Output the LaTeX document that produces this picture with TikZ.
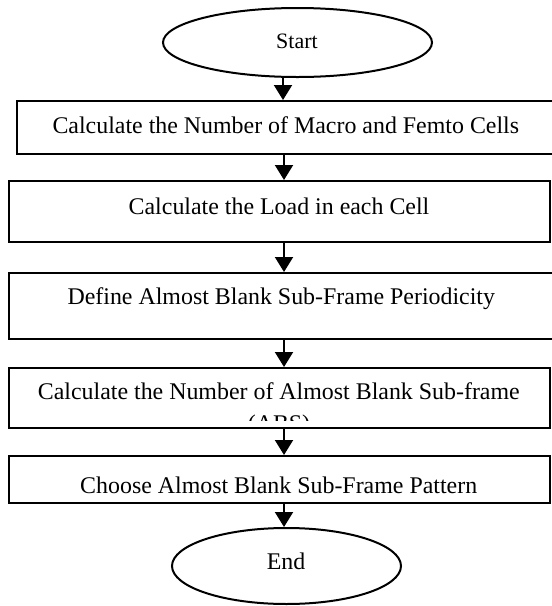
\documentclass[tikz,border=0pt]{standalone}
\usepackage{fontspec}
\setmainfont{Liberation Serif}
\usetikzlibrary{shapes.geometric,arrows.meta}
\begin{document}
\begin{tikzpicture}[x=1pt,y=-1pt,
  line width=2pt,
  stepbox/.style={draw, rectangle, inner sep=0pt},
  term/.style={draw, ellipse, inner sep=0pt},
  txt/.style={anchor=base, inner sep=0pt, font=\fontsize{23.9}{27}\selectfont},
  arr/.style={-{Triangle[width=18pt,length=15pt]}}]
\useasboundingbox (0,0) rectangle (552,606);
% shapes
\node[term, minimum width=269pt, minimum height=69pt] (start) at (297.5,42.5) {};
\node[stepbox, minimum width=536pt, minimum height=53pt] (b1) at (285,127.5) {};
\node[stepbox, minimum width=541pt, minimum height=61pt] (b2) at (279.5,211.5) {};
\node[stepbox, minimum width=546pt, minimum height=66pt] (b3) at (282,306) {};
\node[stepbox, minimum width=541pt, minimum height=60pt] (b4) at (279.5,398) {};
\node[stepbox, minimum width=541pt, minimum height=47pt] (b5) at (279.5,479.5) {};
\node[term, minimum width=229pt, minimum height=76pt] (end) at (286.5,566) {};
% texts
\node[txt, font=\fontsize{22}{26}\selectfont] (tstart) at (297,48.3) {Start};
\node[txt] (t1) at (285.8,133.5) {Calculate the Number of Macro and Femto Cells};
\node[txt] (t2) at (279,214) {Calculate the Load in each Cell};
\node[txt] (t3) at (281.3,304) {Define Almost Blank Sub-Frame Periodicity};
\node[txt] (t4) at (278.8,399.5) {Calculate the Number of Almost Blank Sub-frame};
\begin{scope}
  \clip (0,368) rectangle (552,420);
  \node[txt] (t4b) at (279,431) {(ABS)};
\end{scope}
\node[txt] (t5) at (278.7,493.5) {Choose Almost Blank Sub-Frame Pattern};
\node[txt] (tend) at (286,569.3) {End};
% connectors
\coordinate (ax) at (284,0);
\coordinate (ax0) at (283,0);
\draw[arr] (start.south -| ax0) -- (b1.north -| ax0);
\draw[arr] (b1.south -| ax) -- (b2.north -| ax);
\draw[arr] (b2.south -| ax) -- (b3.north -| ax);
\draw[arr] (b3.south -| ax) -- (b4.north -| ax);
\draw[arr] (b4.south -| ax) -- (b5.north -| ax);
\draw[arr] (b5.south -| ax) -- (end.north -| ax);
\end{tikzpicture}
\end{document}
